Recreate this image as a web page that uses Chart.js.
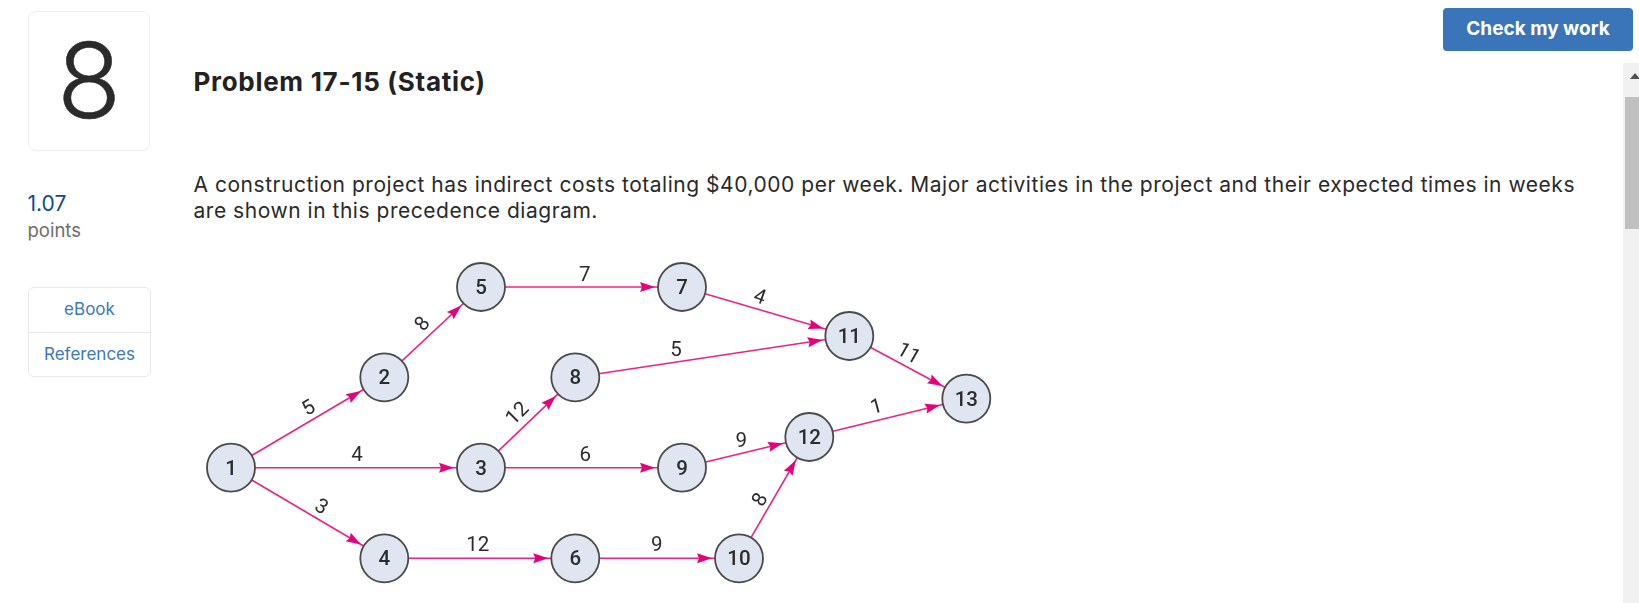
<!DOCTYPE html>
<html>
<head>
<meta charset="utf-8">
<title>Problem 17-15 (Static)</title>
<script src="https://cdn.jsdelivr.net/npm/chart.js@4"></script>
<style>
    html, body { margin: 0; padding: 0; background: #fff; overflow: hidden; }
    body { width: 1639px; height: 603px; position: relative; font-family: Inter, sans-serif; color: #2a2a2a; }
    .abs { position: absolute; white-space: nowrap; }
    #numBox { left: 28px; top: 11px; width: 120px; height: 138px; border: 1px solid #eeeeee; border-radius: 8px; text-align: center; font-size: 105px; font-weight: 300; line-height: 136px; -webkit-text-stroke: 0.5px #2a2a2a; }
    #title { left: 193.5px; top: 65px; font-size: 26px; font-weight: 700; letter-spacing: 0.7px; line-height: 34px; color: #222; }
    .para { left: 193.5px; font-size: 21px; letter-spacing: 0.53px; line-height: 28px; color: #2a2a2a; }
    #pts { left: 27.5px; top: 190px; font-size: 21px; line-height: 28px; color: #0f4c8f; }
    #ptsLabel { left: 27.5px; top: 217px; font-size: 18.5px; line-height: 26px; color: #6d6d6d; }
    #links { left: 28px; top: 287px; width: 121px; height: 88px; border: 1px solid #e8e8e8; border-radius: 6px; color: #3b78bc; font-size: 17px; text-align: center; }
    #links div { height: 44px; line-height: 42px; }
    #links div + div { border-top: 1px solid #e8e8e8; }
    #checkBtn { left: 1443px; top: 8px; width: 190px; height: 43px; background: #3a75b9; border-radius: 4px; color: #fff; font-size: 19px; font-weight: 700; line-height: 41px; text-align: center; }
    #scrollTrack { left: 1623px; top: 63px; width: 16px; height: 540px; background: #f1f1f1; }
    #scrollThumb { left: 1625px; top: 97px; width: 14px; height: 132px; background: #c0c0c0; }
    #scrollUp { left: 1630px; top: 73px; width: 0; height: 0; border-left: 5px solid transparent; border-right: 5px solid transparent; border-bottom: 6px solid #505050; }
    #diagramWrap { left: 190px; top: 250px; width: 820px; height: 353px; }
    #diagram { filter: blur(0.35px); }
</style>
</head>
<body>
<div class="abs" id="numBox">8</div>
<div class="abs" id="title">Problem 17-15 (Static)</div>
<div class="abs para" style="top:171px">A construction project has indirect costs totaling $40,000 per week. Major activities in the project and their expected times in weeks</div>
<div class="abs para" style="top:197px">are shown in this precedence diagram.</div>
<div class="abs" id="pts">1.07</div>
<div class="abs" id="ptsLabel">points</div>
<div class="abs" id="links"><div>eBook</div><div>References</div></div>
<div class="abs" id="checkBtn">Check my work</div>
<div class="abs" id="scrollTrack"></div>
<div class="abs" id="scrollThumb"></div>
<div class="abs" id="scrollUp"></div>
<div class="abs" id="diagramWrap"><canvas id="diagram" width="820" height="353"></canvas></div>

<script>
// Nodes of the precedence diagram
const nodeIds = [1, 2, 3, 4, 5, 6, 7, 8, 9, 10, 11, 12, 13];
const nodeX = [41, 194.3, 291, 194.3, 291, 385.3, 492, 385.3, 492, 549, 659.3, 619.3, 776.3];
const nodeY = [217.7, 127.3, 217.7, 308.3, 37, 308.3, 37, 127.3, 217.7, 308.3, 86, 187, 148.7];

// Activities: from node, to node, expected time in weeks
const edgeFrom = [1, 1, 1, 2, 3, 3, 4, 5, 6, 7, 8, 9, 10, 11, 12];
const edgeTo = [2, 3, 4, 5, 8, 9, 6, 7, 10, 11, 11, 12, 12, 13, 13];
const edgeTimes = [5, 4, 3, 8, 12, 6, 12, 7, 9, 4, 5, 9, 8, 11, 1];

// Where the time labels sit on the diagram, and how they lean
const labelX = [118.3, 167, 131.7, 231.7, 326.7, 395.3, 287.7, 394.7, 466.7, 570, 486, 551.3, 569.3, 719, 686.3];
const labelY = [157.3, 204.3, 256, 73.3, 162.7, 204.3, 294.3, 24.3, 294, 46, 98.7, 190, 249.3, 102.7, 156];
const labelAngle = [-30, 0, 30, -50, -45, 0, 0, 0, 0, 20, 0, 0, -60, 30, -15];

const nodeRadius = 24;
const arrowGap = 27;
const arrowLength = 15;
const arrowHalfWidth = 5;
const pink = '#e8248a';
const magenta = '#e5007e';
const inkColor = '#2c2c2c';
const timeFont = '20.5px Roboto, sans-serif';
const nodeFont = '500 20.5px Roboto, sans-serif';

function nodePoint(id) {
    const i = nodeIds.indexOf(id);
    return { x: nodeX[i], y: nodeY[i] };
}

// Arrowheads, activity times and node numbers
const diagramLabels = {
    id: 'diagramLabels',
    afterDatasetsDraw(chart) {
        const ctx = chart.ctx;
        const xs = chart.scales.x;
        const ys = chart.scales.y;

        ctx.save();
        edgeTo.forEach((to, i) => {
            const a = nodePoint(edgeFrom[i]);
            const b = nodePoint(to);
            const bx = xs.getPixelForValue(b.x);
            const by = ys.getPixelForValue(b.y);
            const angle = Math.atan2(by - ys.getPixelForValue(a.y), bx - xs.getPixelForValue(a.x));
            ctx.save();
            ctx.translate(bx, by);
            ctx.rotate(angle);
            ctx.fillStyle = magenta;
            ctx.beginPath();
            ctx.moveTo(-arrowGap, 0);
            ctx.lineTo(-arrowGap - arrowLength, -arrowHalfWidth);
            ctx.lineTo(-arrowGap - arrowLength + 2, 0);
            ctx.lineTo(-arrowGap - arrowLength, arrowHalfWidth);
            ctx.closePath();
            ctx.fill();
            ctx.restore();
        });

        ctx.fillStyle = inkColor;
        ctx.textAlign = 'center';
        ctx.textBaseline = 'middle';
        ctx.font = timeFont;
        edgeTimes.forEach((time, i) => {
            ctx.save();
            ctx.translate(xs.getPixelForValue(labelX[i]), ys.getPixelForValue(labelY[i]));
            ctx.rotate(labelAngle[i] * Math.PI / 180);
            ctx.fillText(String(time), 0, 2);
            ctx.restore();
        });
        ctx.font = nodeFont;
        nodeIds.forEach((id, i) => {
            ctx.fillText(String(id), xs.getPixelForValue(nodeX[i]), ys.getPixelForValue(nodeY[i]) + 2);
        });
        ctx.restore();
    }
};

const edgeDatasets = edgeTo.map((to, i) => ({
    label: edgeFrom[i] + '-' + to,
    data: [nodePoint(edgeFrom[i]), nodePoint(to)],
    showLine: true,
    borderColor: pink,
    borderWidth: 1.6,
    pointRadius: 0,
    order: 2
}));

new Chart(document.getElementById('diagram').getContext('2d'), {
    type: 'scatter',
    data: {
        datasets: [{
            label: 'Nodes',
            data: nodeIds.map((id, i) => ({ x: nodeX[i], y: nodeY[i] })),
            pointRadius: nodeRadius,
            pointBackgroundColor: '#dfe6f2',
            pointBorderColor: '#4a4a4a',
            pointBorderWidth: 1.8,
            clip: false,
            order: 1
        }].concat(edgeDatasets)
    },
    options: {
        responsive: false,
        animation: false,
        devicePixelRatio: 1,
        layout: { padding: 0, autoPadding: false },
        plugins: { legend: { display: false }, tooltip: { enabled: false } },
        scales: {
            x: { type: 'linear', min: 0, max: 820, display: false },
            y: { type: 'linear', min: 0, max: 353, reverse: true, display: false }
        }
    },
    plugins: [diagramLabels]
});
</script>
</body>
</html>
